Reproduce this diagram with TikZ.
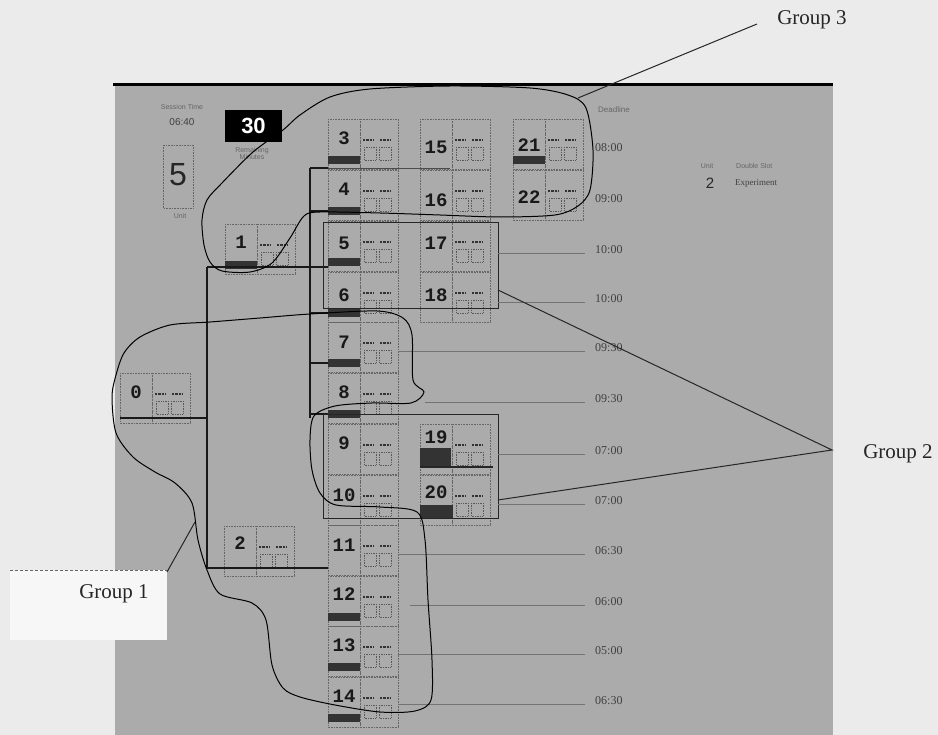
\documentclass[tikz,border=0pt]{standalone}
\usepackage{fontspec}
\setmainfont{Liberation Serif}
\newfontfamily\monobf{Liberation Mono}
\newfontfamily\sansfam{Liberation Sans}
% #1 name, #2 cell left x, #3 row y, #4 number, #5 number y, #6 bar (1/0)
\newcommand\cellitem[6]{%
  \draw[cellbox] (#2,#3-19) rectangle ++(32,50);
  \draw[cellbox] (#2+32,#3-19) rectangle ++(38,50);
  \node[numtext] (#1) at (#2+16,#5) {#4};
  \draw[squig] (#2+35,#3+2) -- ++(11,0);
  \draw[squig] (#2+52,#3+2) -- ++(11,0);
  \draw[minibox] (#2+36,#3+9) rectangle ++(12,13);
  \draw[minibox] (#2+51,#3+9) rectangle ++(12,13);
  \ifnum#6=1 \fill[darkbar] (#2,#3+18) rectangle ++(32,8);\fi
}
\begin{document}
\begin{tikzpicture}[x=1pt,y=-1pt,
  cellbox/.style={draw=black!60, densely dotted, line width=0.6pt},
  minibox/.style={draw=black!65, densely dotted, line width=0.7pt},
  squig/.style={draw=black!80, line width=2pt, dash pattern=on 2.2pt off 1.2pt},
  numtext/.style={font=\monobf\bfseries\fontsize{19}{19}\selectfont, inner sep=0pt, text=black!90},
  darkbar/.style={fill=black!80},
  treeline/.style={draw=black!90, line width=2.6pt},
  grpline/.style={draw=black, line width=1pt},
  leader/.style={draw=black!85, line width=1pt},
  grp/.style={font=\fontsize{21}{21}\selectfont, text=black!85, inner sep=0pt},
  timetext/.style={font=\fontsize{12}{12}\selectfont, text=black!75, anchor=west, inner sep=0pt},
  rowline/.style={draw=black!55, line width=0.7pt},
  smalltxt/.style={font=\sansfam\fontsize{7}{7}\selectfont, text=black!60, inner sep=0pt},
]
\useasboundingbox (0,0) rectangle (938,735);
% backgrounds
\fill[black!8] (0,0) rectangle (938,735);
\fill[black!33] (115,85) rectangle (833,735);
\fill[black!3] (10,570) rectangle (167,640);
\draw[black!60, densely dashed, line width=0.6pt] (10,570) -- (167,570);
\draw[line width=3pt] (113,85) -- (833,85);

% header elements
\node[smalltxt] (slotlbl) at (182,107) {Session Time};
\node[font=\sansfam\fontsize{10}{10}\selectfont, text=black!75, inner sep=0pt] (slottime) at (182,122) {06:40};
\draw[cellbox] (163,145) rectangle (193,208);
\node[font=\sansfam\fontsize{32}{32}\selectfont, text=black!85, inner sep=0pt] (bigfive) at (178,175) {5};
\node[smalltxt] (unitlbl) at (180,216) {Unit};
\node[fill=black, text=white, font=\sansfam\bfseries\fontsize{22}{22}\selectfont, minimum width=57pt, minimum height=32pt, inner sep=0pt] (count) at (253.5,126) {30};
\node[smalltxt, align=center] (countlbl) at (252,154) {Remaining\\Minutes};
\node[smalltxt, font=\sansfam\fontsize{8}{8}\selectfont] (deadline) at (614,110) {Deadline};
% legend
\node[smalltxt] (legu) at (707,166) {Unit};
\node[font=\sansfam\fontsize{15}{15}\selectfont, text=black!85, inner sep=0pt] (leg2) at (710,183) {2};
\node[smalltxt, anchor=west] (legd) at (736,166) {Double Slot};
\node[font=\fontsize{9}{9}\selectfont, text=black!75, anchor=west, inner sep=0pt] (lege) at (735,183) {Experiment};

% cells
\cellitem{n3}{328}{138}{3}{138}{1}
\cellitem{n4}{328}{189}{4}{189}{1}
\cellitem{n5}{328}{240}{5}{243}{1}
\cellitem{n6}{328}{291}{6}{295}{1}
\cellitem{n7}{328}{341}{7}{342}{1}
\cellitem{n8}{328}{392}{8}{392}{1}
\cellitem{n9}{328}{443}{9}{443}{0}
\cellitem{n10}{328}{494}{10}{495}{0}
\cellitem{n11}{328}{544}{11}{545}{0}
\cellitem{n12}{328}{595}{12}{594}{1}
\cellitem{n13}{328}{645}{13}{645}{1}
\cellitem{n14}{328}{696}{14}{696}{1}
\cellitem{n15}{420}{138}{15}{147}{0}
\cellitem{n16}{420}{189}{16}{200}{0}
\cellitem{n17}{420}{240}{17}{243}{0}
\cellitem{n18}{420}{291}{18}{295}{0}
\cellitem{n19}{420}{443}{19}{437}{0}
\cellitem{n20}{420}{494}{20}{492}{0}
\cellitem{n21}{513}{138}{21}{145}{1}
\cellitem{n22}{513}{189}{22}{197}{0}
\cellitem{n0}{120}{392}{0}{392}{0}
\cellitem{n1}{225}{243}{1}{242}{1}
\cellitem{n2}{224}{545}{2}{543}{0}
\fill[darkbar] (420,448) rectangle (451,466);
\draw[black!85, line width=1.5pt] (420,467) -- (493,467);
\fill[darkbar] (420,505) rectangle (453,519);

% tree lines
\coordinate (r0) at (120,418);
\coordinate (j0) at (207,418);
\coordinate (j1) at (207,267);
\coordinate (j2) at (207,568);
\coordinate (c1) at (328,267);
\coordinate (c2) at (328,568);
\coordinate (vtop) at (310,168);
\coordinate (vbot) at (310,418);
\coordinate (vtopr) at (328,168);
\draw[treeline] (r0) -- (j0);
\draw[treeline] (j1) -- (j2);
\draw[treeline] (j1) -- (c1);
\draw[treeline] (j2) -- (c2);
\draw[treeline] (vtop) -- (vbot);
\draw[treeline] (vtop) -- (vtopr);
\draw[black!70, line width=0.9pt] (vtopr) -- (450,168);
\foreach \yy in {211,313,363,414} {\draw[treeline] (310,\yy) -- (328,\yy);}

% group 2 boxes
\draw[black!85, line width=1pt] (323,223) rectangle (498,309);
\draw[black!85, line width=1pt] (323,415) rectangle (498,518);

% time column
\node[timetext] (t3) at (595,148) {08:00};
\node[timetext] (t4) at (595,199) {09:00};
\node[timetext] (t5) at (595,250) {10:00};
\node[timetext] (t6) at (595,299) {10:00};
\node[timetext] (t7) at (595,348) {09:30};
\node[timetext] (t8) at (595,399) {09:30};
\node[timetext] (t9) at (595,451) {07:00};
\node[timetext] (t10) at (595,501) {07:00};
\node[timetext] (t11) at (595,551) {06:30};
\node[timetext] (t12) at (595,602) {06:00};
\node[timetext] (t13) at (595,651) {05:00};
\node[timetext] (t14) at (595,701) {06:30};
\foreach \r/\sx in {5/498,6/498,7/398,8/425,9/498,10/498,11/398,12/410,13/398,14/398} {
  \draw[rowline] (\sx,0|-t\r.west) ++(0,3) -- ([xshift=-10pt,yshift=-3pt]t\r.west);
}

% group outlines
\draw[grpline] plot[smooth cycle, tension=0.5] coordinates {
 (140,337) (170,325) (210,322) (260,318) (310,314) (377,311) (403,318) (412,335)
 (413,380) (424,392) (411,403) (372,403) (335,406) (314,416) (310,440) (312,470)
 (320,493) (336,505) (380,507) (417,512) (425,540) (428,600) (432,660) (431,700)
 (415,711) (380,712) (335,705) (300,697) (283,688) (272,665) (266,620) (252,603)
 (220,594) (207,570) (198,540) (192,503) (175,483) (155,472) (133,457) (116,433)
 (112,397) (116,375) (124,353)};
\draw[grpline] plot[smooth cycle, tension=0.5] coordinates {
 (283,130) (300,115) (330,97) (370,89) (450,86) (530,88) (568,95) (586,108)
 (593,150) (590,190) (578,206) (555,215) (500,217) (440,215) (380,213) (320,212)
 (304,216) (290,238) (272,263) (250,272) (222,271) (210,262) (204,245) (202,220)
 (207,200) (222,183) (253,152)};

% group labels and leaders
\node[grp] (g3) at (812,20) {Group 3};
\node[grp] (g2) at (898,454) {Group 2};
\node[grp] (g1) at (114,594) {Group 1};
\coordinate (g3a) at (757,24);
\coordinate (g3b) at (578,98);
\draw[leader] (g3b) -- (g3a);
\coordinate (g2tip) at (832,450);
\coordinate (g2a) at (498,290);
\coordinate (g2b) at (498,500);
\draw[leader] (g2a) -- (g2tip) -- (g2b);
\coordinate (g1a) at (167,572);
\coordinate (g1b) at (195,522);
\draw[leader] (g1a) -- (g1b);
\end{tikzpicture}
\end{document}
